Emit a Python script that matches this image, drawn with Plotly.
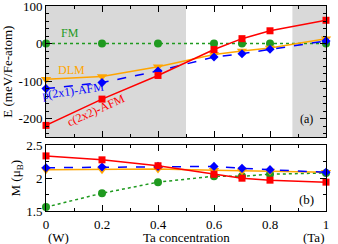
import plotly.graph_objects as go

x = [0, 0.2, 0.4, 0.6, 0.7, 0.8, 1.0]

# Energies (meV/Fe-atom)
E_FM = [0, 0, 0, 0, 0, 0, 0]
E_DLM = [-95, -88, -62, -29, -20, -12, 13]
E_P2x1 = [-120, -104, -73, -36, -27, -15, 7]
E_C2x2 = [-218, -148, -85, -16, 13, 34, 62]

# Magnetic moments (mu_B)
M_FM = [1.56, 1.77, 1.94, 2.03, 2.03, 2.06, 2.08]
M_DLM = [2.13, 2.13, 2.14, 2.12, 2.11, 2.11, 2.09]
M_P2x1 = [2.16, 2.17, 2.18, 2.18, 2.15, 2.13, 2.09]
M_C2x2 = [2.34, 2.28, 2.19, 2.06, 2.0, 1.97, 1.94]

x_ticks = [0, 0.2, 0.4, 0.6, 0.8, 1]
x_ticklabels = ["0", "0.2", "0.4", "0.6", "0.8", "1"]
E_ticks = [100, 0, -100, -200]
E_ticklabels = ["100", "0", "-100", "-200"]
M_ticks = [1.5, 2, 2.5]
M_ticklabels = ["1.5", "2", "2.5"]

GREEN = "#1f9a1f"
ORANGE = "#ffa500"
BLUE = "#0000ff"
RED = "#ff0000"
FONT = "Liberation Serif"

fig = go.Figure()

series = [
    (E_FM, M_FM, GREEN, "dot", "circle", 8),
    (E_DLM, M_DLM, ORANGE, "solid", "triangle-down", 9),
    (E_P2x1, M_P2x1, BLUE, "dash", "diamond", 7),
    (E_C2x2, M_C2x2, RED, "solid", "square", 7),
]
for E, M, c, dash, sym, sz in series:
    fig.add_trace(go.Scatter(x=x, y=E, mode="lines+markers", xaxis="x", yaxis="y",
                             line=dict(color=c, dash=dash, width=1.5),
                             marker=dict(color=c, symbol=sym, size=sz), showlegend=False,
                             cliponaxis=False))
    fig.add_trace(go.Scatter(x=x, y=M, mode="lines+markers", xaxis="x2", yaxis="y2",
                             line=dict(color=c, dash=dash, width=1.5),
                             marker=dict(color=c, symbol=sym, size=sz), showlegend=False,
                             cliponaxis=False))

shade = "#d9d9d9"
fig.add_shape(type="rect", xref="x", yref="y", x0=0, x1=0.5, y0=-250, y1=100,
              fillcolor=shade, line_width=0, layer="below")
fig.add_shape(type="rect", xref="x", yref="y", x0=0.88, x1=1, y0=-250, y1=100,
              fillcolor=shade, line_width=0, layer="below")

axis_common = dict(showline=True, linecolor="black", linewidth=1, mirror="ticks",
                   ticks="inside", ticklen=6, tickcolor="black", showgrid=False,
                   zeroline=False, automargin=False, ticklabeloverflow="allow",
                   tickfont=dict(family=FONT, size=13, color="black"))

fig.update_layout(
    width=338, height=244,
    margin=dict(l=46, r=12, t=6, b=33),
    paper_bgcolor="white", plot_bgcolor="white",
    font=dict(family=FONT, size=13, color="black"),
    xaxis=dict(domain=[0, 1], range=[0, 1], anchor="y", tickvals=x_ticks,
               showticklabels=False,
               minor=dict(dtick=0.1, ticklen=3, ticks="inside", tickcolor="black"),
               **axis_common),
    yaxis=dict(domain=[0.359, 1], range=[-250, 100], anchor="x", tickvals=E_ticks,
               ticktext=E_ticklabels,
               minor=dict(dtick=20, ticklen=3, ticks="inside", tickcolor="black"),
               title=dict(text="E (meV/Fe-atom)", font=dict(family=FONT, size=13), standoff=2),
               **axis_common),
    xaxis2=dict(domain=[0, 1], range=[0, 1], anchor="y2", tickvals=x_ticks,
                ticktext=x_ticklabels, ticklabelstandoff=1,
                minor=dict(dtick=0.1, ticklen=3, ticks="inside", tickcolor="black"),
                **axis_common),
    yaxis2=dict(domain=[0, 0.32], range=[1.5, 2.5], anchor="x2", tickvals=M_ticks,
                ticktext=M_ticklabels,
                minor=dict(dtick=0.25, ticklen=3, ticks="inside", tickcolor="black"),
                title=dict(text="M (μ<sub>B</sub>)", font=dict(family=FONT, size=13), standoff=2),
                **axis_common),
)

ann = [
    dict(text="FM", x=0.086, y=27, color=GREEN, angle=0),
    dict(text="DLM", x=0.092, y=-70, color=ORANGE, angle=0),
    dict(text="p(2x1)-AFM", x=0.096, y=-126, color=BLUE, angle=-8),
    dict(text="c(2x2)-AFM", x=0.18, y=-176, color=RED, angle=-24),
    dict(text="(a)", x=0.93, y=-200, color="black", angle=0),
]
for a in ann:
    fig.add_annotation(text=a["text"], x=a["x"], y=a["y"], xref="x", yref="y",
                       showarrow=False, textangle=a["angle"],
                       font=dict(family=FONT, size=12, color=a["color"]))
fig.add_annotation(text="(b)", x=0.93, y=1.68, xref="x2", yref="y2", showarrow=False,
                   font=dict(family=FONT, size=13, color="black"))
fig.add_annotation(text="Ta concentration", x=0.5, y=-0.128, xref="paper", yref="paper",
                   showarrow=False, yanchor="middle", font=dict(family=FONT, size=13))
fig.add_annotation(text="(W)", x=0.0, y=-0.128, xref="paper", yref="paper",
                   showarrow=False, yanchor="middle", font=dict(family=FONT, size=13))
fig.add_annotation(text="(Ta)", x=1.0, y=-0.128, xref="paper", yref="paper",
                   showarrow=False, yanchor="middle", font=dict(family=FONT, size=13))

fig.write_html("out.html", config={"displayModeBar": False},
               post_script="document.body.style.margin='0';")
